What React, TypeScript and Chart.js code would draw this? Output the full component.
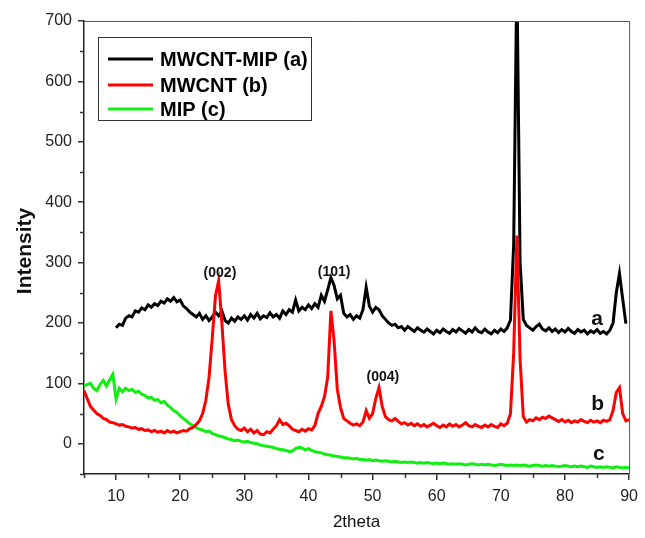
import React, { useEffect, useRef } from 'react';
import { Chart, registerables } from 'chart.js';

Chart.register(...registerables);

// 2theta positions (degrees)
const twoTheta = [
  5, 5.5, 6, 6.5, 7, 7.5, 8, 8.5, 9, 9.5,
  10, 10.5, 11, 11.5, 12, 12.5, 13, 13.5, 14, 14.5,
  15, 15.5, 16, 16.5, 17, 17.5, 18, 18.5, 19, 19.5,
  20, 20.5, 21, 21.5, 22, 22.5, 23, 23.5, 24, 24.5,
  25, 25.5, 26, 26.5, 27, 27.5, 28, 28.5, 29, 29.5,
  30, 30.5, 31, 31.5, 32, 32.5, 33, 33.5, 34, 34.5,
  35, 35.5, 36, 36.5, 37, 37.5, 38, 38.5, 39, 39.5,
  40, 40.5, 41, 41.5, 42, 42.5, 43, 43.5, 44, 44.5,
  45, 45.5, 46, 46.5, 47, 47.5, 48, 48.5, 49, 49.5,
  50, 50.5, 51, 51.5, 52, 52.5, 53, 53.5, 54, 54.5,
  55, 55.5, 56, 56.5, 57, 57.5, 58, 58.5, 59, 59.5,
  60, 60.5, 61, 61.5, 62, 62.5, 63, 63.5, 64, 64.5,
  65, 65.5, 66, 66.5, 67, 67.5, 68, 68.5, 69, 69.5,
  70, 70.5, 71, 71.5, 72, 72.5, 73, 73.5, 74, 74.5,
  75, 75.5, 76, 76.5, 77, 77.5, 78, 78.5, 79, 79.5,
  80, 80.5, 81, 81.5, 82, 82.5, 83, 83.5, 84, 84.5,
  85, 85.5, 86, 86.5, 87, 87.5, 88, 88.5, 89, 89.5,
  90,
];

// MWCNT-MIP (a)
const mwcntMip = [
  null, null, null, null, null, null, null, null, null, null,
  192, 198, 196, 208, 212, 210, 220, 218, 225, 222,
  230, 226, 232, 229, 236, 233, 240, 236, 242, 235,
  238, 228, 224, 218, 214, 210, 216, 206, 212, 204,
  210, 218, 212, 220, 204, 200, 208, 203, 210, 206,
  212, 205, 214, 208, 216, 207, 212, 209, 217, 210,
  214, 208, 220, 214, 222, 218, 238, 220, 226, 222,
  230, 224, 232, 226, 246, 236, 255, 275, 262, 240,
  246, 216, 210, 214, 206, 212, 208, 222, 259, 228,
  218, 226, 222, 212, 206, 200, 196, 198, 192, 194,
  188, 194, 190, 186, 192, 188, 185, 190, 186, 182,
  188, 184, 190, 186, 183, 189, 185, 191, 187, 183,
  189, 185, 192, 186, 184, 190, 185, 182, 188, 184,
  190, 186, 192, 205, 330, 780, 300, 206, 196, 192,
  188, 194, 198, 190, 187, 192, 186, 190, 184, 189,
  185, 191, 186, 183, 189, 185, 188, 182, 187, 184,
  189, 183, 186, 182, 188, 200, 250, 282, 240, 199,
  null,
];

// MWCNT (b)
const mwcnt = [
  88, 75, 62, 56, 50, 47, 42, 40, 36, 35,
  33, 31, 32, 29, 28, 26, 27, 24, 25, 22,
  23, 20, 22, 19, 21, 18, 22, 19, 21, 18,
  20, 22, 21, 25, 27, 32, 38, 50, 72, 110,
  175, 245, 270, 200, 120, 65, 40, 30, 24, 22,
  26, 20, 24, 18, 22, 16, 15, 20, 18, 24,
  30, 40, 32, 34, 30, 24, 22, 20, 24, 21,
  25, 23, 30, 50, 62, 78, 110, 220, 170, 90,
  60, 42, 38, 34, 31, 33, 30, 36, 55, 42,
  50, 75, 93, 62, 45, 40, 38, 42, 37, 33,
  35, 31, 34, 30, 33, 29, 32, 28, 31, 34,
  30, 27, 31, 28, 33, 29, 32, 28, 31, 35,
  30, 28, 32, 29, 27, 31, 28, 32, 29, 27,
  33, 30, 34, 50, 150, 345, 140, 45, 36, 40,
  38, 43, 40, 44, 42, 46, 43, 40, 37, 40,
  36, 39, 35, 38, 36, 40, 37, 35, 39, 36,
  38, 35, 39, 37, 40, 55, 85, 93, 50, 38,
  40,
];

// MIP (c)
const mip = [
  96, 98, 100, 92, 88, 98, 105, 96, 106, 115,
  74, 92, 86, 92, 88, 90, 85, 87, 82, 80,
  76, 77, 72, 73, 68, 70, 64, 60, 55, 52,
  46, 42, 38, 33, 30, 27, 24, 23, 20, 21,
  17, 15, 13, 12, 10, 8, 7, 5, 6, 4,
  3, 4, 2, 1, 0, -2, -3, -4, -5, -6,
  -8, -9, -10, -11, -13, -12, -8, -6, -7, -10,
  -8, -11, -13, -14, -15, -17, -18, -19, -20, -21,
  -22, -23, -23, -24, -25, -24, -26, -26, -27, -26,
  -28, -27, -28, -29, -28, -29, -30, -29, -30, -31,
  -30, -31, -30, -31, -32, -31, -32, -31, -32, -33,
  -32, -33, -32, -33, -34, -33, -34, -33, -34, -35,
  -34, -33, -34, -35, -34, -35, -34, -35, -36, -35,
  -34, -35, -36, -35, -36, -35, -36, -35, -36, -37,
  -36, -35, -36, -37, -36, -37, -36, -37, -38, -37,
  -36, -37, -38, -37, -38, -37, -38, -39, -37, -38,
  -39, -38, -39, -38, -39, -40, -38, -39, -40, -39,
  -40,
];

const seriesLabels = ['MWCNT-MIP (a)', 'MWCNT (b)', 'MIP (c)'];
const seriesColors = ['#000000', '#ff0000', '#11ee11'];

const xTickValues = [10, 20, 30, 40, 50, 60, 70, 80, 90];
const xMinorValues = [5, 15, 25, 35, 45, 55, 65, 75, 85];
const yTickValues = [0, 100, 200, 300, 400, 500, 600, 700];
const yMinorValues = [-50, 50, 150, 250, 350, 450, 550, 650];

const peakTexts = ['(002)', '(101)', '(004)'];
const peakAt = [[26.2, 283], [44.0, 285], [51.6, 110]];
const curveLetters = ['a', 'b', 'c'];
const curveLetterAt = [[85.0, 207], [85.1, 66], [85.3, -18]];

const FONT = '"Liberation Sans", Arial, sans-serif';

const decorPlugin = {
  id: 'decor',
  afterDraw(chart: any) {
    const { ctx, chartArea: a, scales } = chart;
    const xs = scales.x;
    const ys = scales.y;
    ctx.save();
    // top and right frame
    ctx.strokeStyle = '#555';
    ctx.lineWidth = 1;
    ctx.beginPath();
    ctx.moveTo(a.left, a.top + 0.5);
    ctx.lineTo(a.right + 0.5, a.top + 0.5);
    ctx.lineTo(a.right + 0.5, a.bottom);
    ctx.stroke();
    // minor ticks
    ctx.strokeStyle = '#333';
    ctx.lineWidth = 1.5;
    xMinorValues.forEach((v) => {
      const px = Math.round(xs.getPixelForValue(v)) + 0.5;
      ctx.beginPath();
      ctx.moveTo(px, a.bottom);
      ctx.lineTo(px, a.bottom + 4);
      ctx.stroke();
    });
    yMinorValues.forEach((v) => {
      const py = Math.round(ys.getPixelForValue(v)) + 0.5;
      ctx.beginPath();
      ctx.moveTo(a.left, py);
      ctx.lineTo(a.left - 4, py);
      ctx.stroke();
    });
    // axis titles
    ctx.fillStyle = '#111';
    ctx.textAlign = 'center';
    ctx.textBaseline = 'middle';
    ctx.font = `17px ${FONT}`;
    ctx.fillText('2theta', (a.left + a.right) / 2, 522);
    ctx.save();
    ctx.translate(25, 251);
    ctx.rotate(-Math.PI / 2);
    ctx.font = `bold 21px ${FONT}`;
    ctx.fillText('Intensity', 0, 0);
    ctx.restore();
    // peak labels
    ctx.fillStyle = '#111';
    ctx.font = `bold 14px ${FONT}`;
    peakTexts.forEach((t, i) => {
      ctx.fillText(t, xs.getPixelForValue(peakAt[i][0]), ys.getPixelForValue(peakAt[i][1]));
    });
    // curve letters
    ctx.font = `bold 21px ${FONT}`;
    curveLetters.forEach((t, i) => {
      ctx.fillText(t, xs.getPixelForValue(curveLetterAt[i][0]), ys.getPixelForValue(curveLetterAt[i][1]));
    });
    // legend
    const lx = 98, ly = 37, lw = 213, lh = 83;
    ctx.fillStyle = '#fff';
    ctx.fillRect(lx, ly, lw, lh);
    ctx.strokeStyle = '#333';
    ctx.lineWidth = 1;
    ctx.strokeRect(lx + 0.5, ly + 0.5, lw, lh);
    ctx.textAlign = 'left';
    ctx.font = `bold 20px ${FONT}`;
    const rows = [59, 85, 109];
    seriesLabels.forEach((lab, i) => {
      ctx.strokeStyle = seriesColors[i];
      ctx.lineWidth = 3;
      ctx.beginPath();
      ctx.moveTo(108, rows[i]);
      ctx.lineTo(153, rows[i]);
      ctx.stroke();
      ctx.fillStyle = '#000';
      ctx.fillText(lab, 160, rows[i] + 1);
    });
    ctx.restore();
  },
};

export default function App() {
  const ref = useRef<HTMLCanvasElement>(null);
  useEffect(() => {
    if (!ref.current) return;
    const series = [mwcntMip, mwcnt, mip];
    const orders = [1, 0, 2];
    const chart = new Chart(ref.current, {
      type: 'line',
      data: {
        datasets: series.map((arr, i) => ({
          label: seriesLabels[i],
          data: twoTheta.map((x, j) => ({ x, y: arr[j] })),
          borderColor: seriesColors[i],
          backgroundColor: seriesColors[i],
          borderWidth: 3,
          pointRadius: 0,
          tension: 0,
          spanGaps: false,
          order: orders[i],
        })),
      },
      options: {
        responsive: false,
        animation: false,
        layout: { padding: { top: 21, right: 9, left: 0, bottom: 0 } },
        plugins: { legend: { display: false }, tooltip: { enabled: false } },
        scales: {
          x: {
            type: 'linear',
            min: 5,
            max: 90,
            afterBuildTicks: (s: any) => {
              s.ticks = xTickValues.map((v) => ({ value: v }));
            },
            afterFit: (s: any) => {
              s.height = 64;
            },
            grid: { display: true, drawOnChartArea: false, drawTicks: true, tickLength: 6, color: '#333', lineWidth: 1.5 },
            border: { display: true, color: '#222', width: 1.5 },
            ticks: { color: '#222', font: { family: FONT, size: 16 }, padding: 7, maxRotation: 0 },
          },
          y: {
            type: 'linear',
            min: -50,
            max: 700,
            afterBuildTicks: (s: any) => {
              s.ticks = yTickValues.map((v) => ({ value: v }));
            },
            afterFit: (s: any) => {
              s.width = 84;
            },
            grid: { display: true, drawOnChartArea: false, drawTicks: true, tickLength: 6, color: '#333', lineWidth: 1.5 },
            border: { display: true, color: '#222', width: 1.5 },
            ticks: { color: '#222', font: { family: FONT, size: 16 }, padding: 6 },
          },
        },
      },
      plugins: [decorPlugin],
    });
    return () => chart.destroy();
  }, []);
  return (
    <div style={{ position: 'absolute', left: 0, top: 0, width: 645, height: 538, background: '#fff' }}>
      <canvas ref={ref} width={645} height={538} />
    </div>
  );
}
